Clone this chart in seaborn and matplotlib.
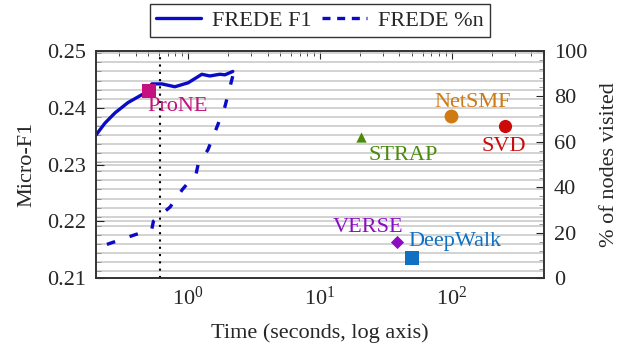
import matplotlib
matplotlib.use("Agg")
import matplotlib.pyplot as plt
import matplotlib.ticker as mticker
from matplotlib.lines import Line2D
import seaborn as sns
import pandas as pd
import numpy as np

# ---- data ----
f1_time = [0.20, 0.234, 0.279, 0.349, 0.47, 0.531, 0.632, 0.793, 1.0, 1.27, 1.46, 1.74, 1.90, 2.18]
f1_vals = [0.2352, 0.2373, 0.2391, 0.2409, 0.2426, 0.2442, 0.2442, 0.2437, 0.2444, 0.2459, 0.2456, 0.2459, 0.2458, 0.2464]

pn_time = [0.242, 0.388, 0.53, 0.545, 0.73, 0.907, 1.15, 1.19, 1.41, 1.62, 1.90, 2.18]
pn_vals = [14.8, 18.9, 21.5, 25.0, 31.3, 39.1, 46.0, 50.0, 56.4, 65.2, 75.5, 89.0]

methods = ["ProNE", "NetSMF", "SVD", "STRAP", "VERSE", "DeepWalk"]
m_time = [0.507, 99.0, 251.0, 20.6, 38.4, 49.9]
m_f1 = [0.2430, 0.2386, 0.2367, 0.2349, 0.2164, 0.21347]

frede_cut = 0.61

# ---- styles ----
m_colors = ["#c4117f", "#cf7a12", "#cc0a0a", "#4b8b0c", "#8c0cc4", "#1170c2"]
m_markers = ["s", "o", "o", "^", "D", "s"]
m_sizes = [110, 100, 90, 55, 45, 100]
lab_off = [(-2, -16, "left"), (21, 13, "center"), (-1, -20, "center"),
           (42, -19, "center"), (-29, 14, "center"), (43, 17, "center")]

sns.set_theme(style="white")
plt.rcParams["font.family"] = ["Liberation Serif", "DejaVu Serif"]
plt.rcParams["mathtext.fontset"] = "stix"
FS = 16

fig = plt.figure(figsize=(6.31, 3.44), dpi=100)
ax = fig.add_axes([96/631, 66/344, 448/631, 227/344])
ax2 = ax.twinx()

line_col = "#0a0ac8"
LW = 2.4
ax.set_xscale("log")
ax.set_xlim(0.2, 500)
ax.set_ylim(0.21, 0.25)
ax2.set_ylim(0, 100)

ax.yaxis.set_major_locator(mticker.MultipleLocator(0.01))
ax.yaxis.set_minor_locator(mticker.MultipleLocator(0.0016))
ax.yaxis.grid(True, which="both", color="#c6c6c6", lw=1.1)
ax.set_axisbelow(True)
ax.yaxis.set_major_formatter(mticker.FormatStrFormatter("%.2f"))

ax2.yaxis.set_major_locator(mticker.MultipleLocator(20))
ax2.yaxis.set_minor_locator(mticker.MultipleLocator(4))
ax2.grid(False)

ax.axvline(frede_cut, color="black", ls=(0, (1, 2.5)), lw=1.5, zorder=2)

df1 = pd.DataFrame({"t": f1_time, "v": f1_vals})
sns.lineplot(data=df1, x="t", y="v", ax=ax, color=line_col, lw=LW, zorder=3)
df2 = pd.DataFrame({"t": pn_time, "v": pn_vals})
sns.lineplot(data=df2, x="t", y="v", ax=ax2, color=line_col, lw=LW, zorder=3)
ax2.lines[0].set_dashes([2.6, 4.6])

dm = pd.DataFrame({"m": methods, "t": m_time, "f": m_f1})
for i, row in dm.iterrows():
    sns.scatterplot(x=[row.t], y=[row.f], ax=ax, color=m_colors[i],
                    marker=m_markers[i], s=m_sizes[i], edgecolor=m_colors[i],
                    linewidth=0, zorder=5, legend=False)
    dx, dy, ha = lab_off[i]
    ax.annotate(row.m, (row.t, row.f), xytext=(dx, dy), textcoords="offset pixels",
                ha=ha, va="center", color=m_colors[i], fontsize=FS, zorder=6)

ax.set_xlabel("Time (seconds, log axis)", fontsize=FS, labelpad=10)
ax.set_ylabel("Micro-F1", fontsize=FS, labelpad=8)
ax2.set_ylabel("% of nodes visited", fontsize=FS, labelpad=9)

for a in (ax, ax2):
    a.tick_params(axis="both", which="both", direction="in", labelsize=FS)
ax.tick_params(axis="x", which="major", length=6, width=0.8, top=True, pad=6)
ax.tick_params(axis="x", which="minor", length=3.5, width=0.6, top=True)
ax.tick_params(axis="y", which="major", length=6, width=0.8, pad=7)
ax.tick_params(axis="y", which="minor", length=3.5, width=0.6, color="#888888")
ax2.tick_params(axis="y", which="major", length=6, width=0.8, pad=7)
ax2.tick_params(axis="y", which="minor", length=3.5, width=0.6, color="#888888")
ax.xaxis.set_major_locator(mticker.LogLocator(base=10, numticks=10))
ax.xaxis.set_minor_locator(mticker.LogLocator(base=10, subs=np.arange(2, 10), numticks=20))
ax.xaxis.set_minor_formatter(mticker.NullFormatter())
ax.xaxis.set_major_formatter(mticker.LogFormatterMathtext())

for a in (ax, ax2):
    for s in a.spines.values():
        s.set_color("#333333")
        s.set_linewidth(1.2)

handles = [Line2D([], [], color=line_col, lw=LW),
           Line2D([], [], color=line_col, lw=LW, dashes=[2.4, 2.0])]
leg = fig.legend(handles, ["FREDE F1", "FREDE %n"], loc="center",
                 bbox_to_anchor=(320/631, 1 - 20.5/344), ncol=2, frameon=True,
                 fontsize=FS, fancybox=False, edgecolor="black",
                 handlelength=2.0, columnspacing=0.5, handletextpad=0.5,
                 borderpad=0.3, borderaxespad=0)
leg.get_frame().set_linewidth(1.0)

fig.savefig("out.png", dpi=100)
